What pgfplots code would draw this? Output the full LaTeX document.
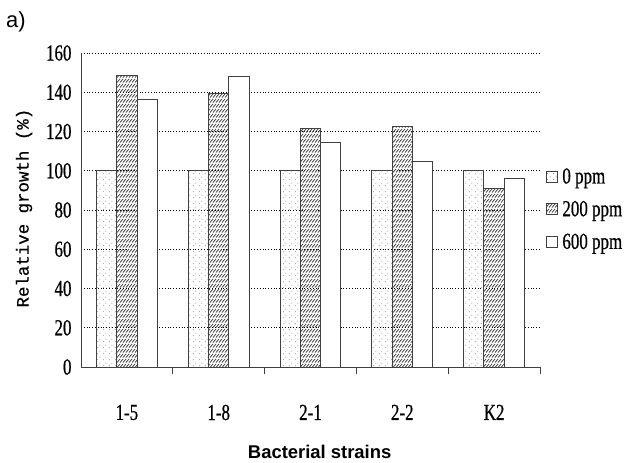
\documentclass[border=0pt]{standalone}
\usepackage{pgfplots}
\pgfplotsset{compat=1.18}
\usepackage{fontspec}
\setmainfont{Liberation Serif}
\newfontfamily\tickfont[FakeStretch=0.74, FakeBold=0.6]{Liberation Serif}
\newfontfamily\arialfont{Liberation Sans}
\newfontfamily\monofont[FakeBold=0.5]{Liberation Mono}
\usetikzlibrary{patterns}
\pgfdeclarepatternformonly{sparsedots}{\pgfqpoint{0bp}{0bp}}{\pgfqpoint{6bp}{6bp}}{\pgfqpoint{6bp}{6bp}}{%
  \pgfpathcircle{\pgfqpoint{1.5bp}{1.5bp}}{0.5bp}%
  \pgfpathcircle{\pgfqpoint{4.5bp}{4.5bp}}{0.5bp}%
  \pgfusepath{fill}}
\pgfdeclarepatternformonly{slashrows}{\pgfqpoint{-0.5bp}{-0.5bp}}{\pgfqpoint{3.5bp}{5.5bp}}{\pgfqpoint{3bp}{5bp}}{%
  \pgfsetlinewidth{0.8bp}%
  \pgfpathmoveto{\pgfqpoint{0bp}{0.5bp}}\pgfpathlineto{\pgfqpoint{3bp}{4bp}}%
  \pgfusepath{stroke}}
\definecolor{barline}{HTML}{404040}
\begin{document}
\begin{tikzpicture}
\path[use as bounding box] (-81bp,-96bp) rectangle (543bp,367bp);
\node[anchor=north west, inner sep=0pt, font=\arialfont\fontsize{22}{22}\selectfont] at (-75bp,356bp) {a)};
\begin{axis}[
  scale only axis,
  width=459bp, height=314bp,
  xmin=-0.5, xmax=4.5, ymin=0, ymax=160,
  axis x line*=bottom, axis y line*=left,
  axis line style={barline, line width=0.9bp, -},
  xtick={0,1,2,3,4},
  xticklabels={1-5,1-8,2-1,2-2,K2},
  minor xtick={0.5,1.5,2.5,3.5,4.5},
  major x tick style={draw=none},
  minor tick length=7bp,
  minor x tick style={barline, line width=0.9bp},
  tick align=inside,
  ytick={0,20,40,60,80,100,120,140,160},
  yticklabels={0,20,40,60,80,100,120,140,160},
  major y tick style={draw=none},
  ymajorgrids,
  major grid style={black, line width=0.8bp, dotted},
  ticklabel style={font=\tickfont\fontsize{23}{23}\selectfont},
  xticklabel style={yshift=-30bp},
  yticklabel style={xshift=-6bp},
  ybar=0pt,
  bar width=20.3bp,
  ylabel={Relative growth (\%)},
  ylabel style={at={(axis description cs:-0.124,0.506)}, anchor=center, font=\monofont\fontsize{17.5}{17.5}\selectfont},
  legend style={at={(axis description cs:1.012,0.64)}, anchor=north west, draw=none, fill=none,
    font=\tickfont\fontsize{23}{23}\selectfont, row sep=12bp, column sep=3bp, inner sep=0pt},
  legend cell align=left,
  legend image code/.code={\draw[#1, line width=0.7bp] (0bp,-5.5bp) rectangle (11bp,5.5bp);},
  clip=false,
]
\addplot[draw=barline, line width=0.9bp, pattern=sparsedots, pattern color=barline] coordinates {(0,100) (1,100) (2,100) (3,100) (4,100)};
\addplot[draw=barline, line width=0.9bp, pattern=slashrows, pattern color=barline] coordinates {(0,148.5) (1,139.5) (2,121.8) (3,122.8) (4,91)};
\addplot[draw=barline, line width=0.9bp, fill=white] coordinates {(0,136.5) (1,147.8) (2,114.6) (3,104.6) (4,96)};
\legend{0 ppm, 200 ppm, 600 ppm}
\node[font=\arialfont\bfseries\fontsize{18.5}{18.5}\selectfont] at (axis description cs:0.52,0) [yshift=-85bp] {Bacterial strains};
\end{axis}
\end{tikzpicture}
\end{document}
